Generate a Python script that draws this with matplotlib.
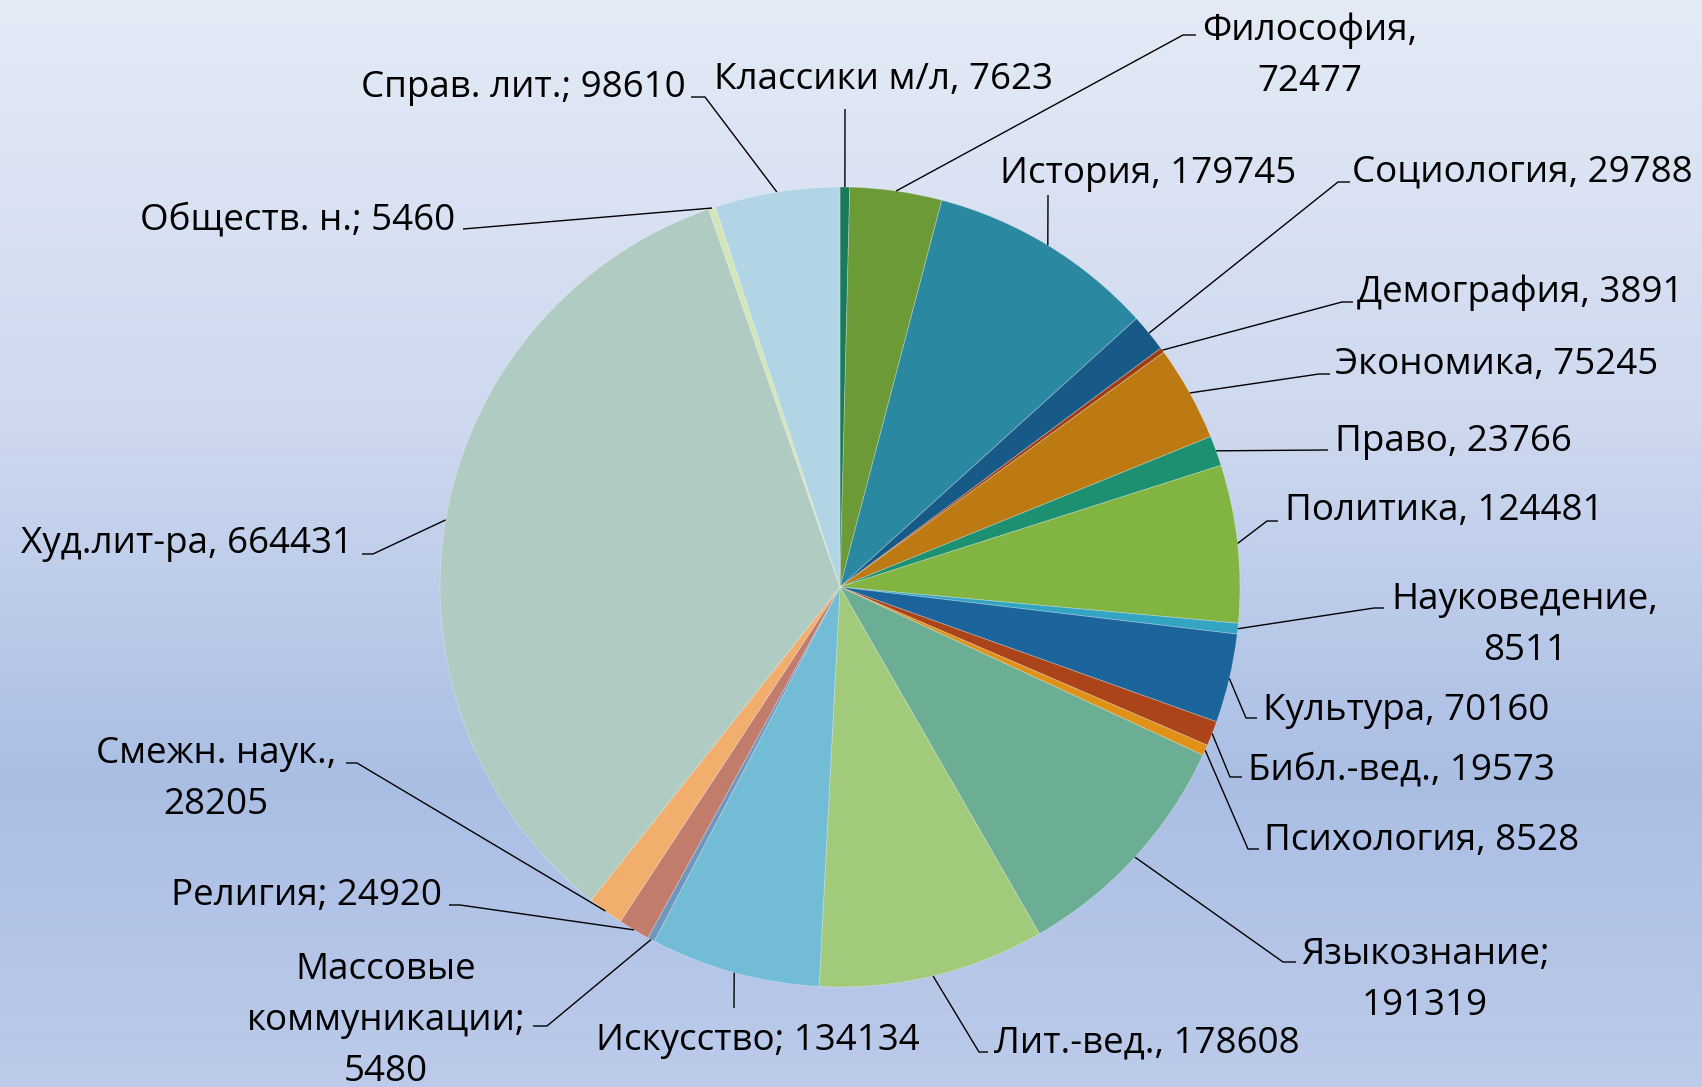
import matplotlib
matplotlib.use("Agg")
import matplotlib.pyplot as plt
import numpy as np
from matplotlib.colors import LinearSegmentedColormap

plt.rcParams['font.family'] = ['Open Sans', 'DejaVu Sans']

# ---------------- data ----------------
categories = ["Классики м/л", "Философия", "История", "Социология", "Демография",
              "Экономика", "Право", "Политика", "Науковедение", "Культура",
              "Библ.-вед.", "Психология", "Языкознание", "Лит.-вед.", "Искусство",
              "Массовые\nкоммуникации", "Религия", "Смежн. наук.", "Худ.лит-ра",
              "Обществ. н.", "Справ. лит."]
values = [7623, 72477, 179745, 29788, 3891, 75245, 23766, 124481, 8511, 70160,
          19573, 8528, 191319, 178608, 134134, 5480, 24920, 28205, 664431, 5460, 98610]
separators = [", ", ",\n", ", ", ", ", ", ", ", ", ", ", ", ", ",\n", ", ",
              ", ", ", ", ";\n", ", ", "; ", ";\n", "; ", ",\n", ", ", "; ", "; "]
colors = ["#1a7a5c", "#6c9a37", "#2a88a0", "#175a87", "#9c3d12", "#bd7a13",
          "#1c9070", "#82b442", "#33a5c3", "#1b659c", "#ab4419", "#e09117",
          "#6bae94", "#a2ca7b", "#73bcd6", "#6f96bc", "#c17c6c", "#f2ae6c",
          "#b0ccc2", "#d4e5b8", "#b2d5e5"]

# ---------------- layout (pixel positions of labels) ----------------
W, H = 1702, 1087
CX, CY, R = 840, 587, 400
# (text x, first-line y, ha, leader points after the wedge edge)
layout = [
    (884, 77, "center", [(845, 109)]),
    (1310, 28, "center", [(1183, 35), (1196, 35)]),
    (1000, 171, "left", [(1048, 195)]),
    (1352, 170, "left", [(1338, 182), (1350, 182)]),
    (1357, 290, "left", [(1342, 302), (1353, 302)]),
    (1335, 362, "left", [(1319, 374), (1330, 374)]),
    (1335, 439, "left", [(1328, 450)]),
    (1285, 508, "left", [(1267, 521), (1278, 521)]),
    (1525, 597, "center", [(1374, 608), (1384, 608)]),
    (1263, 708, "left", [(1246, 718), (1257, 718)]),
    (1248, 767, "left", [(1230, 777), (1242, 777)]),
    (1264, 838, "left", [(1248, 849), (1259, 849)]),
    (1425, 952, "center", [(1283, 962), (1296, 962)]),
    (994, 1040, "left", [(979, 1052), (988, 1052)]),
    (758, 1038, "center", [(734, 1008)]),
    (386, 967, "center", [(547, 1026), (533, 1026)]),
    (442, 893, "right", [(460, 905), (449, 905)]),
    (216, 751, "center", [(357, 763), (346, 763)]),
    (353, 541, "right", [(373, 554), (362, 554)]),
    (455, 217, "right", [(475, 228), (463, 229)]),
    (686, 85, "right", [(705, 97), (691, 97)]),
]
LINE_STEP = 51
TEXT_DY = 3
FONT_SIZE = 26.5


def X(px):
    return (px - CX) / R


def Y(py):
    return (CY - py) / R


fig = plt.figure(figsize=(W / 100, H / 100), dpi=100)
ax = fig.add_axes([0, 0, 1, 1])

xlim = (X(0), X(W))
ylim = (Y(H), Y(0))

# background gradient
cmap = LinearSegmentedColormap.from_list(
    "bg", [(0.0, "#e4eaf6"), (0.4, "#cdd8ef"), (0.72, "#aabee4"), (1.0, "#bccbea")])
grad = np.linspace(0, 1, 256).reshape(-1, 1)
ax.imshow(grad, extent=[xlim[0], xlim[1], ylim[0], ylim[1]], aspect="auto",
          cmap=cmap, origin="upper", zorder=0, interpolation="bicubic")

wedges, _ = ax.pie(values, colors=colors, startangle=90, counterclock=False,
                   radius=1, center=(0, 0),
                   wedgeprops=dict(linewidth=0.6, edgecolor=(1, 1, 1, 0.3)))
for w in wedges:
    w.set_zorder(2)

for w, name, val, sep, (tx, ty, ha, pts) in zip(wedges, categories, values,
                                                 separators, layout):
    mid = np.deg2rad((w.theta1 + w.theta2) / 2)
    xs = [np.cos(mid)] + [X(p[0]) for p in pts]
    ys = [np.sin(mid)] + [Y(p[1]) for p in pts]
    ax.plot(xs, ys, color="black", lw=1.0, zorder=3, solid_capstyle="butt")
    label = f"{name}{sep}{val}"
    for i, line in enumerate(label.split("\n")):
        ax.text(X(tx), Y(ty + TEXT_DY + i * LINE_STEP), line, ha=ha, va="center",
                fontsize=FONT_SIZE, color="black", zorder=4)

ax.set_xlim(*xlim)
ax.set_ylim(*ylim)
ax.set_aspect("auto")
ax.axis("off")

fig.savefig("out.png", dpi=100)
